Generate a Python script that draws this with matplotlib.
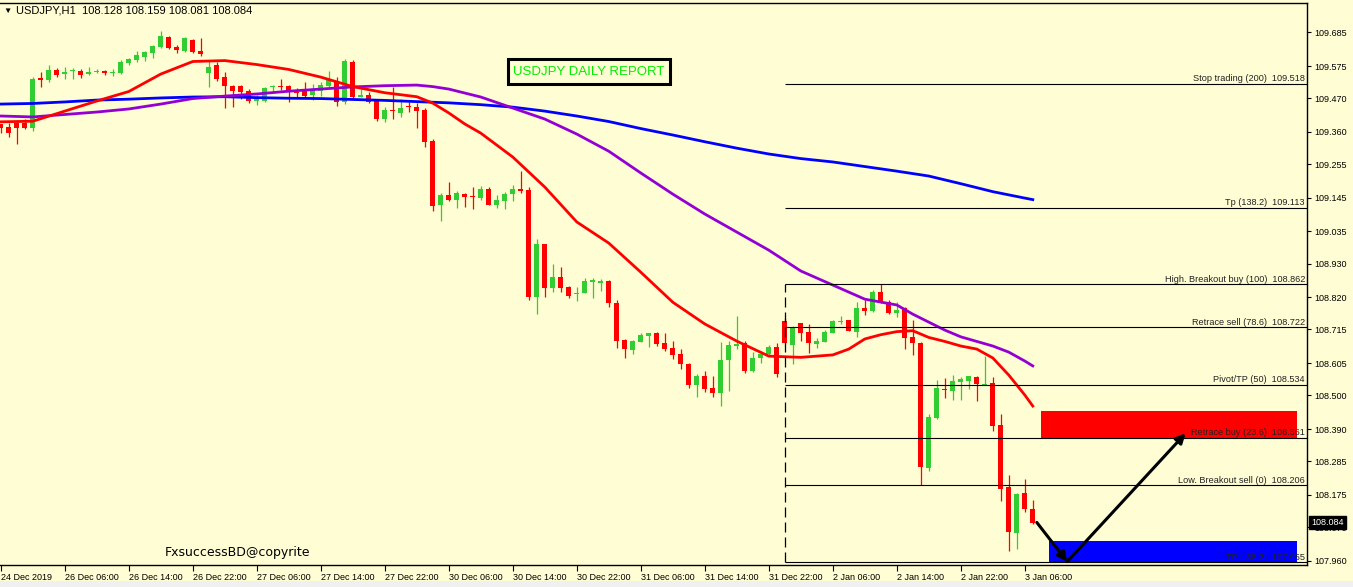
import numpy as np
import matplotlib.pyplot as plt
from matplotlib.patches import Rectangle

plt.rcParams['font.family'] = ['Liberation Sans', 'DejaVu Sans']

# USDJPY H1 candles
open_ = [109.386, 109.376, 109.389, 109.389, 109.373, 109.534, 109.530, 109.562, 109.549, 109.559,
         109.559, 109.549, 109.556, 109.559, 109.552, 109.552, 109.585, 109.595, 109.604, 109.617,
         109.637, 109.670, 109.637, 109.624, 109.660, 109.624, 109.552, 109.578, 109.539, 109.510,
         109.510, 109.493, 109.461, 109.461, 109.506, 109.510, 109.510, 109.490, 109.493, 109.480,
         109.493, 109.510, 109.523, 109.457, 109.588, 109.474, 109.480, 109.464, 109.402, 109.430,
         109.422, 109.442, 109.441, 109.431, 109.330, 109.121, 109.154, 109.138, 109.157, 109.149,
         109.144, 109.173, 109.121, 109.134, 109.157, 109.173, 109.170, 108.821, 108.994, 108.850,
         108.886, 108.853, 108.830, 108.834, 108.870, 108.867, 108.873, 108.801, 108.680, 108.648,
         108.674, 108.694, 108.703, 108.671, 108.654, 108.635, 108.602, 108.534, 108.563, 108.524,
         108.507, 108.615, 108.661, 108.671, 108.579, 108.622, 108.635, 108.658, 108.742, 108.664,
         108.736, 108.707, 108.667, 108.674, 108.703, 108.740, 108.746, 108.707, 108.785, 108.775,
         108.837, 108.805, 108.768, 108.785, 108.690, 108.671, 108.263, 108.426, 108.521, 108.514,
         108.543, 108.547, 108.560, 108.534, 108.540, 108.403, 108.200, 108.050, 108.181, 108.128]
high = [109.386, 109.389, 109.399, 109.402, 109.539, 109.555, 109.578, 109.568, 109.572, 109.568,
        109.565, 109.572, 109.565, 109.562, 109.565, 109.595, 109.601, 109.624, 109.624, 109.644,
        109.689, 109.672, 109.644, 109.670, 109.662, 109.666, 109.591, 109.588, 109.555, 109.513,
        109.513, 109.500, 109.480, 109.506, 109.513, 109.533, 109.513, 109.503, 109.523, 109.516,
        109.523, 109.559, 109.539, 109.598, 109.595, 109.500, 109.490, 109.464, 109.441, 109.506,
        109.467, 109.457, 109.454, 109.438, 109.337, 109.160, 109.196, 109.167, 109.160, 109.180,
        109.183, 109.180, 109.154, 109.164, 109.186, 109.232, 109.180, 109.010, 108.994, 108.929,
        108.919, 108.857, 108.853, 108.883, 108.883, 108.880, 108.876, 108.811, 108.684, 108.680,
        108.703, 108.703, 108.707, 108.703, 108.677, 108.651, 108.605, 108.569, 108.579, 108.563,
        108.674, 108.677, 108.759, 108.677, 108.641, 108.645, 108.664, 108.671, 108.752, 108.726,
        108.736, 108.733, 108.687, 108.713, 108.746, 108.759, 108.746, 108.805, 108.811, 108.844,
        108.862, 108.811, 108.805, 108.788, 108.746, 108.674, 108.439, 108.550, 108.556, 108.566,
        108.560, 108.563, 108.563, 108.628, 108.560, 108.439, 108.240, 108.181, 108.227, 108.159]
low = [109.356, 109.343, 109.320, 109.369, 109.363, 109.506, 109.523, 109.539, 109.533, 109.533,
       109.536, 109.546, 109.552, 109.546, 109.542, 109.549, 109.578, 109.588, 109.591, 109.601,
       109.634, 109.631, 109.617, 109.621, 109.617, 109.608, 109.506, 109.526, 109.438, 109.441,
       109.467, 109.454, 109.448, 109.457, 109.490, 109.497, 109.457, 109.474, 109.474, 109.464,
       109.477, 109.506, 109.444, 109.451, 109.470, 109.474, 109.454, 109.396, 109.392, 109.402,
       109.408, 109.425, 109.373, 109.310, 109.102, 109.069, 109.135, 109.111, 109.115, 109.108,
       109.138, 109.121, 109.111, 109.108, 109.134, 109.160, 108.811, 108.765, 108.821, 108.837,
       108.837, 108.818, 108.808, 108.834, 108.818, 108.840, 108.788, 108.654, 108.622, 108.635,
       108.674, 108.658, 108.661, 108.645, 108.618, 108.586, 108.524, 108.494, 108.511, 108.494,
       108.465, 108.514, 108.651, 108.573, 108.576, 108.605, 108.632, 108.560, 108.671, 108.602,
       108.677, 108.638, 108.654, 108.674, 108.703, 108.733, 108.710, 108.690, 108.762, 108.772,
       108.801, 108.765, 108.755, 108.651, 108.631, 108.206, 108.253, 108.423, 108.491, 108.485,
       108.485, 108.520, 108.481, 108.534, 108.383, 108.155, 107.992, 107.998, 108.119, 108.081]
close = [109.373, 109.356, 109.373, 109.373, 109.533, 109.531, 109.562, 109.546, 109.555, 109.562,
         109.546, 109.555, 109.559, 109.552, 109.555, 109.588, 109.598, 109.611, 109.621, 109.640,
         109.673, 109.634, 109.627, 109.666, 109.621, 109.614, 109.572, 109.533, 109.510, 109.493,
         109.490, 109.461, 109.474, 109.503, 109.510, 109.507, 109.497, 109.487, 109.477, 109.497,
         109.513, 109.533, 109.457, 109.591, 109.474, 109.480, 109.457, 109.402, 109.431, 109.427,
         109.438, 109.440, 109.428, 109.327, 109.118, 109.154, 109.138, 109.160, 109.147, 109.147,
         109.173, 109.121, 109.138, 109.157, 109.173, 109.167, 108.821, 108.994, 108.850, 108.886,
         108.850, 108.824, 108.834, 108.873, 108.876, 108.873, 108.801, 108.677, 108.651, 108.677,
         108.697, 108.703, 108.667, 108.651, 108.631, 108.602, 108.534, 108.563, 108.521, 108.507,
         108.615, 108.664, 108.667, 108.579, 108.622, 108.635, 108.658, 108.569, 108.671, 108.723,
         108.703, 108.671, 108.677, 108.707, 108.742, 108.742, 108.710, 108.785, 108.775, 108.837,
         108.805, 108.768, 108.778, 108.687, 108.671, 108.266, 108.429, 108.524, 108.517, 108.547,
         108.553, 108.563, 108.537, 108.537, 108.400, 108.194, 108.054, 108.178, 108.129, 108.084]

# moving averages (read at sample bars)
red_ma_x = [0, 4, 8, 12, 16, 20, 24, 28, 32, 36, 40, 44, 48, 52, 54, 56, 58, 60, 64, 68, 72, 76, 80,
            84, 88, 92, 96, 100, 104, 106, 108, 110, 112, 114, 116, 118, 120, 122, 124, 126, 128, 129]
red_ma = [109.393, 109.395, 109.428, 109.461, 109.492, 109.549, 109.590, 109.593, 109.580, 109.564,
          109.539, 109.508, 109.488, 109.475, 109.454, 109.422, 109.386, 109.356, 109.278, 109.180,
          109.066, 108.997, 108.902, 108.804, 108.733, 108.677, 108.628, 108.624, 108.632, 108.651,
          108.684, 108.698, 108.708, 108.711, 108.689, 108.676, 108.661, 108.651, 108.622, 108.566,
          108.501, 108.465]
purple_ma_x = [0, 4, 8, 12, 16, 20, 24, 28, 32, 36, 40, 44, 48, 52, 54, 56, 60, 64, 68, 72, 76, 80,
               84, 88, 92, 96, 100, 104, 108, 112, 114, 116, 118, 120, 122, 124, 126, 128, 129]
purple_ma = [109.412, 109.409, 109.417, 109.425, 109.435, 109.451, 109.469, 109.477, 109.484, 109.493,
             109.500, 109.507, 109.511, 109.513, 109.508, 109.500, 109.474, 109.438, 109.402, 109.353,
             109.297, 109.226, 109.157, 109.092, 109.033, 108.974, 108.906, 108.860, 108.814, 108.795,
             108.765, 108.739, 108.713, 108.691, 108.676, 108.661, 108.641, 108.612, 108.596]
blue_ma_x = list(range(0, 129, 4)) + [129]
blue_ma = [109.451, 109.453, 109.458, 109.464, 109.467, 109.471, 109.474, 109.475, 109.472, 109.470,
           109.469, 109.466, 109.463, 109.459, 109.455, 109.449, 109.441, 109.428, 109.412, 109.394,
           109.371, 109.350, 109.328, 109.307, 109.288, 109.273, 109.262, 109.247, 109.232, 109.216,
           109.191, 109.165, 109.144, 109.139]

time_labels = ["24 Dec 2019", "26 Dec 06:00", "26 Dec 14:00", "26 Dec 22:00", "27 Dec 06:00",
               "27 Dec 14:00", "27 Dec 22:00", "30 Dec 06:00", "30 Dec 14:00", "30 Dec 22:00",
               "31 Dec 06:00", "31 Dec 14:00", "31 Dec 22:00", "2 Jan 06:00", "2 Jan 14:00",
               "2 Jan 22:00", "3 Jan 06:00"]
price_ticks = [109.685, 109.575, 109.470, 109.360, 109.255, 109.145, 109.035, 108.930, 108.820,
               108.715, 108.605, 108.500, 108.390, 108.285, 108.175, 108.070, 107.960]

fib_levels = [109.518, 109.113, 108.862, 108.722, 108.534, 108.361, 108.206, 107.955]
fib_names = ["Stop trading (200)", "Tp (138.2)", "High. Breakout buy (100)", "Retrace sell (78.6)",
             "Pivot/TP (50)", "Retrace buy (23.6)", "Low. Breakout sell (0)", "TP (-38.2)"]
fib_start = 98
sell_zone = (130, 162, 108.361, 108.449)
buy_zone = (131, 162, 107.955, 108.024)
arrow_pts = [(129.5, 108.085), (133.3, 107.957), (148.1, 108.376)]
last_price = 108.084

bg = '#fffdd4'
fig = plt.figure(figsize=(13.53, 5.87), dpi=100, facecolor=bg)
ax = fig.add_axes([0, 22 / 587, 1307 / 1353, 562 / 587])
ax.set_facecolor(bg)

x = np.arange(len(open_))
o = np.array(open_)
c = np.array(close)
cols = np.where(c >= o, '#32cd32', '#ff0000')
ax.vlines(x, low, high, colors=cols, lw=0.9, zorder=2)
ax.bar(x, np.maximum(np.abs(c - o), 0.0035), bottom=np.minimum(o, c), width=0.62,
       color=cols, linewidth=0, zorder=2)

ax.plot(blue_ma_x, blue_ma, color='#0000ff', lw=2.0, zorder=3)
ax.plot(purple_ma_x, purple_ma, color='#9400d3', lw=2.0, zorder=3)
ax.plot(red_ma_x, red_ma, color='#ff0000', lw=2.0, zorder=3)

# zones
ax.add_patch(Rectangle((sell_zone[0], sell_zone[2]), sell_zone[1] - sell_zone[0],
                       sell_zone[3] - sell_zone[2], fc='#ff0000', ec='none', zorder=1))
ax.add_patch(Rectangle((buy_zone[0], buy_zone[2]), buy_zone[1] - buy_zone[0],
                       buy_zone[3] - buy_zone[2], fc='#0000ff', ec='none', zorder=1))

# fibo levels
for lev, name in zip(fib_levels, fib_names):
    ax.hlines(lev, fib_start, 170, colors='black', lw=0.8, zorder=4)
    ax.annotate(f"{name}  {lev:.3f}", xy=(1, lev), xycoords=('axes fraction', 'data'),
                xytext=(-1.5, 1.8), textcoords='offset points', ha='right', va='baseline',
                fontsize=6.6, color='#222222', zorder=5)
ax.vlines(fib_start, fib_levels[-1], fib_levels[2], colors='black', lw=0.9,
          linestyles=(0, (8, 4)), zorder=4)

# arrows
for p0, p1 in zip(arrow_pts[:-1], arrow_pts[1:]):
    ax.annotate('', xy=p1, xytext=p0,
                arrowprops=dict(arrowstyle='-|>', color='black', lw=2.2, mutation_scale=14,
                                shrinkA=0, shrinkB=0), zorder=6)

ax.set_xlim(-0.1, 163.275)
ax.set_ylim(107.946, 109.781)

ax.set_xticks(range(0, 129, 8))
ax.set_xticklabels(time_labels, ha='left')
ax.tick_params(axis='x', direction='out', length=4, pad=1.5, labelsize=6.5)
ax.yaxis.tick_right()
ax.set_yticks(price_ticks)
ax.set_yticklabels([f"{v:.3f}" for v in price_ticks])
ax.tick_params(axis='y', direction='out', length=3, pad=2, labelsize=6.5)
for s in ['top', 'right', 'bottom']:
    ax.spines[s].set_color('black')
    ax.spines[s].set_linewidth(1)
ax.spines['left'].set_visible(False)

ax.annotate(f"{last_price:.3f}", xy=(1, last_price), xycoords=('axes fraction', 'data'),
            xytext=(3, 0), textcoords='offset points', ha='left', va='center', color='white',
            fontsize=6.5, bbox=dict(boxstyle='square,pad=0.25', fc='black', ec='black'),
            annotation_clip=False, zorder=10)

# header and notes
ax.text(0.0022, 0.9858, '▼', transform=ax.transAxes, fontsize=6, va='center', color='black')
ax.text(0.0122, 0.9858, "USDJPY,H1  108.128 108.159 108.081 108.084", transform=ax.transAxes,
        fontsize=8, va='center', color='black')
ax.add_patch(Rectangle((0.3884, 0.8559), 0.1242, 0.0445, transform=ax.transAxes,
                       fill=False, ec='black', lw=2.2, zorder=5))
ax.text(0.4505, 0.8781, "USDJPY DAILY REPORT", transform=ax.transAxes, fontsize=9.5,
        color='#00ee00', ha='center', va='center', zorder=5)
ax.text(0.1262, 0.0214, "FxsuccessBD@copyrite", transform=ax.transAxes, fontsize=9,
        family=['DejaVu Sans'], color='black', va='center', zorder=5)

fig.patches.append(Rectangle((0, 0), 1, 6 / 587, transform=fig.transFigure,
                             fc='#f0f0f0', ec='none'))

fig.savefig('out.png', dpi=100, facecolor=bg)
